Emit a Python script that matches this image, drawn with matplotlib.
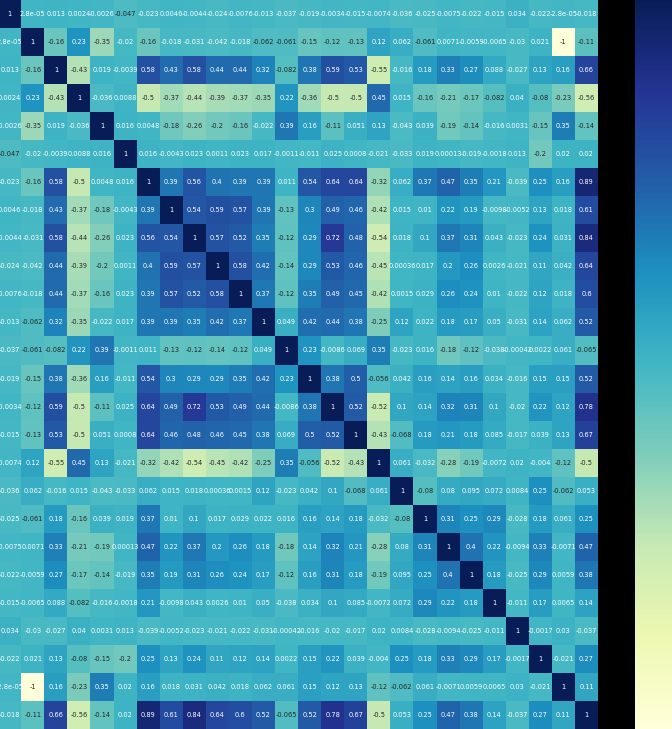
import numpy as np
import matplotlib
matplotlib.use("Agg")
import matplotlib.pyplot as plt
import seaborn as sns

# correlation matrix (26 variables, symmetric)
r00 = [1, 2.8e-05, 0.013, 0.0024, -0.0026, -0.047, -0.023, 0.0046, -0.0044, -0.024, -0.0076, -0.013, -0.037, -0.019, -0.0034, -0.015, -0.0074, -0.036, -0.025, -0.0075, -0.022, -0.015, 0.034, -0.022, -2.8e-05, -0.018]
r01 = [2.8e-05, 1, -0.16, 0.23, -0.35, -0.02, -0.16, -0.018, -0.031, -0.042, -0.018, -0.062, -0.061, -0.15, -0.12, -0.13, 0.12, 0.062, -0.061, 0.0071, -0.0059, -0.0065, -0.03, 0.021, -1, -0.11]
r02 = [0.013, -0.16, 1, -0.43, 0.019, -0.0039, 0.58, 0.43, 0.58, 0.44, 0.44, 0.32, -0.082, 0.38, 0.59, 0.53, -0.55, -0.016, 0.18, 0.33, 0.27, 0.088, -0.027, 0.13, 0.16, 0.66]
r03 = [0.0024, 0.23, -0.43, 1, -0.036, 0.0088, -0.5, -0.37, -0.44, -0.39, -0.37, -0.35, 0.22, -0.36, -0.5, -0.5, 0.45, 0.015, -0.16, -0.21, -0.17, -0.082, 0.04, -0.08, -0.23, -0.56]
r04 = [-0.0026, -0.35, 0.019, -0.036, 1, 0.016, 0.0048, -0.18, -0.26, -0.2, -0.16, -0.022, 0.39, 0.16, -0.11, 0.051, 0.13, -0.043, 0.039, -0.19, -0.14, -0.016, 0.0031, -0.15, 0.35, -0.14]
r05 = [-0.047, -0.02, -0.0039, 0.0088, 0.016, 1, 0.016, -0.0043, 0.023, 0.0011, 0.023, 0.017, -0.0011, -0.011, 0.025, 0.0008, -0.021, -0.033, 0.019, 0.00013, -0.019, -0.0018, 0.013, -0.2, 0.02, 0.02]
r06 = [-0.023, -0.16, 0.58, -0.5, 0.0048, 0.016, 1, 0.39, 0.56, 0.4, 0.39, 0.39, 0.011, 0.54, 0.64, 0.64, -0.32, 0.062, 0.37, 0.47, 0.35, 0.21, -0.039, 0.25, 0.16, 0.89]
r07 = [0.0046, -0.018, 0.43, -0.37, -0.18, -0.0043, 0.39, 1, 0.54, 0.59, 0.57, 0.39, -0.13, 0.3, 0.49, 0.46, -0.42, 0.015, 0.01, 0.22, 0.19, -0.0098, -0.0052, 0.13, 0.018, 0.61]
r08 = [-0.0044, -0.031, 0.58, -0.44, -0.26, 0.023, 0.56, 0.54, 1, 0.57, 0.52, 0.35, -0.12, 0.29, 0.72, 0.48, -0.54, 0.018, 0.1, 0.37, 0.31, 0.043, -0.023, 0.24, 0.031, 0.84]
r09 = [-0.024, -0.042, 0.44, -0.39, -0.2, 0.0011, 0.4, 0.59, 0.57, 1, 0.58, 0.42, -0.14, 0.29, 0.53, 0.46, -0.45, 0.00036, 0.017, 0.2, 0.26, 0.0026, -0.021, 0.11, 0.042, 0.64]
r10 = [-0.0076, -0.018, 0.44, -0.37, -0.16, 0.023, 0.39, 0.57, 0.52, 0.58, 1, 0.37, -0.12, 0.35, 0.49, 0.45, -0.42, 0.0015, 0.029, 0.26, 0.24, 0.01, -0.022, 0.12, 0.018, 0.6]
r11 = [-0.013, -0.062, 0.32, -0.35, -0.022, 0.017, 0.39, 0.39, 0.35, 0.42, 0.37, 1, 0.049, 0.42, 0.44, 0.38, -0.25, 0.12, 0.022, 0.18, 0.17, 0.05, -0.031, 0.14, 0.062, 0.52]
r12 = [-0.037, -0.061, -0.082, 0.22, 0.39, -0.0011, 0.011, -0.13, -0.12, -0.14, -0.12, 0.049, 1, 0.23, -0.0086, 0.069, 0.35, -0.023, 0.016, -0.18, -0.12, -0.038, -0.00042, 0.0022, 0.061, -0.065]
r13 = [-0.019, -0.15, 0.38, -0.36, 0.16, -0.011, 0.54, 0.3, 0.29, 0.29, 0.35, 0.42, 0.23, 1, 0.38, 0.5, -0.056, 0.042, 0.16, 0.14, 0.16, 0.034, -0.016, 0.15, 0.15, 0.52]
r14 = [-0.0034, -0.12, 0.59, -0.5, -0.11, 0.025, 0.64, 0.49, 0.72, 0.53, 0.49, 0.44, -0.0086, 0.38, 1, 0.52, -0.52, 0.1, 0.14, 0.32, 0.31, 0.1, -0.02, 0.22, 0.12, 0.78]
r15 = [-0.015, -0.13, 0.53, -0.5, 0.051, 0.0008, 0.64, 0.46, 0.48, 0.46, 0.45, 0.38, 0.069, 0.5, 0.52, 1, -0.43, -0.068, 0.18, 0.21, 0.18, 0.085, -0.017, 0.039, 0.13, 0.67]
r16 = [-0.0074, 0.12, -0.55, 0.45, 0.13, -0.021, -0.32, -0.42, -0.54, -0.45, -0.42, -0.25, 0.35, -0.056, -0.52, -0.43, 1, 0.061, -0.032, -0.28, -0.19, -0.0072, 0.02, -0.004, -0.12, -0.5]
r17 = [-0.036, 0.062, -0.016, 0.015, -0.043, -0.033, 0.062, 0.015, 0.018, 0.00036, 0.0015, 0.12, -0.023, 0.042, 0.1, -0.068, 0.061, 1, -0.08, 0.08, 0.095, 0.072, 0.0084, 0.25, -0.062, 0.053]
r18 = [-0.025, -0.061, 0.18, -0.16, 0.039, 0.019, 0.37, 0.01, 0.1, 0.017, 0.029, 0.022, 0.016, 0.16, 0.14, 0.18, -0.032, -0.08, 1, 0.31, 0.25, 0.29, -0.028, 0.18, 0.061, 0.25]
r19 = [-0.0075, 0.0071, 0.33, -0.21, -0.19, 0.00013, 0.47, 0.22, 0.37, 0.2, 0.26, 0.18, -0.18, 0.14, 0.32, 0.21, -0.28, 0.08, 0.31, 1, 0.4, 0.22, -0.0094, 0.33, -0.0071, 0.47]
r20 = [-0.022, -0.0059, 0.27, -0.17, -0.14, -0.019, 0.35, 0.19, 0.31, 0.26, 0.24, 0.17, -0.12, 0.16, 0.31, 0.18, -0.19, 0.095, 0.25, 0.4, 1, 0.18, -0.025, 0.29, 0.0059, 0.38]
r21 = [-0.015, -0.0065, 0.088, -0.082, -0.016, -0.0018, 0.21, -0.0098, 0.043, 0.0026, 0.01, 0.05, -0.038, 0.034, 0.1, 0.085, -0.0072, 0.072, 0.29, 0.22, 0.18, 1, -0.011, 0.17, 0.0065, 0.14]
r22 = [0.034, -0.03, -0.027, 0.04, 0.0031, 0.013, -0.039, -0.0052, -0.023, -0.021, -0.022, -0.031, -0.00042, -0.016, -0.02, -0.017, 0.02, 0.0084, -0.028, -0.0094, -0.025, -0.011, 1, -0.0017, 0.03, -0.037]
r23 = [-0.022, 0.021, 0.13, -0.08, -0.15, -0.2, 0.25, 0.13, 0.24, 0.11, 0.12, 0.14, 0.0022, 0.15, 0.22, 0.039, -0.004, 0.25, 0.18, 0.33, 0.29, 0.17, -0.0017, 1, -0.021, 0.27]
r24 = [-2.8e-05, -1, 0.16, -0.23, 0.35, 0.02, 0.16, 0.018, 0.031, 0.042, 0.018, 0.062, 0.061, 0.15, 0.12, 0.13, -0.12, -0.062, 0.061, -0.0071, 0.0059, 0.0065, 0.03, -0.021, 1, 0.11]
r25 = [-0.018, -0.11, 0.66, -0.56, -0.14, 0.02, 0.89, 0.61, 0.84, 0.64, 0.6, 0.52, -0.065, 0.52, 0.78, 0.67, -0.5, 0.053, 0.25, 0.47, 0.38, 0.14, -0.037, 0.27, 0.11, 1]

corr = np.array([r00, r01, r02, r03, r04, r05, r06, r07, r08, r09, r10, r11, r12,
                 r13, r14, r15, r16, r17, r18, r19, r20, r21, r22, r23, r24, r25])

W, H = 672, 729
fig = plt.figure(figsize=(W / 100, H / 100), dpi=100)
fig.patch.set_facecolor("black")

# heatmap runs off the left edge a little, colorbar runs off the right edge
ax = fig.add_axes([-1.8 / W, -0.5 / H, 599.8 / W, 730 / H])
cax = fig.add_axes([635 / W, 0, 60 / W, 1])

sns.heatmap(corr, ax=ax, cbar_ax=cax, cmap="YlGnBu", annot=True, fmt=".2g",
            annot_kws={"size": 4.8}, xticklabels=False, yticklabels=False)
cax.tick_params(length=0, labelsize=0)
cax.set_yticklabels([])

fig.savefig("out.png", dpi=100, facecolor=fig.get_facecolor())
